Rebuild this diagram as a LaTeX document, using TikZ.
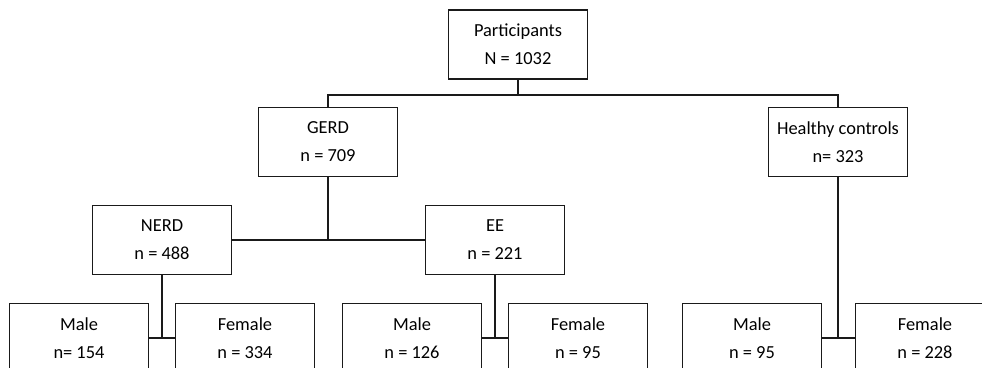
\documentclass[tikz,border=0pt]{standalone}
\usepackage{fontspec}
\setmainfont{Carlito}
\usetikzlibrary{positioning,calc}
\definecolor{treeLine}{HTML}{1A1A1A}
\tikzset{
  group box/.style={
    rectangle, draw=treeLine, line width=1.5pt, fill=white,
    minimum width=139pt, minimum height=69pt,
    inner sep=0pt, align=center,
    font=\fontsize{18.4}{28}\selectfont,
  },
  tree link/.style={
    draw=treeLine, line width=1.5pt,
  },
}

\begin{document}
\begin{tikzpicture}[x=1pt,y=-1pt]

% --- canvas (image coordinates, origin top left)
\useasboundingbox (0,0) rectangle (982,367);
\fill[white] (0,0) rectangle (982,367);
\clip (0,0) rectangle (982,367);

% --- level 0: all participants
\node[group box] (part) at (518,44.5) {Participants\\N = 1032};

% --- level 1: patients / controls
\node[group box] (gerd) at (328,142) {GERD\\n = 709};
\node[group box] (hc)   at (838,142) {Healthy controls\\n= 323};

% --- level 2: GERD subtypes
\node[group box] (nerd) at (162,240) {NERD\\n = 488};
\node[group box] (ee)   at (495,240) {EE\\n = 221};

% --- level 3: sex split (boxes run past the bottom edge)
\node[group box] (nerdM) at (79,338)  {Male\\n= 154};
\node[group box] (nerdF) at (245,338) {Female\\n = 334};
\node[group box] (eeM)   at (412,338) {Male\\n = 126};
\node[group box] (eeF)   at (578,338) {Female\\n = 95};
\node[group box] (hcM)   at (752,338) {Male\\n = 95};
\node[group box] (hcF)   at (925,338) {Female\\n = 228};

% --- connectors
\coordinate (bus) at ([yshift=-15pt]part.south);
\draw[tree link] (part.south) -- (bus);
\draw[tree link] (gerd.north) |- (bus) -| (hc.north);

\draw[tree link] (gerd.south) -- (gerd.south |- nerd.east);
\draw[tree link] (nerd.east) -- (ee.west);

\draw[tree link] (nerd.south) -- (nerd.south |- nerdM.east);
\draw[tree link] (nerdM.east) -- (nerdF.west);
\draw[tree link] (ee.south) -- (ee.south |- eeM.east);
\draw[tree link] (eeM.east) -- (eeF.west);
\draw[tree link] (hc.south) -- (hc.south |- hcM.east);
\draw[tree link] (hcM.east) -- (hcF.west);

\end{tikzpicture}
\end{document}
